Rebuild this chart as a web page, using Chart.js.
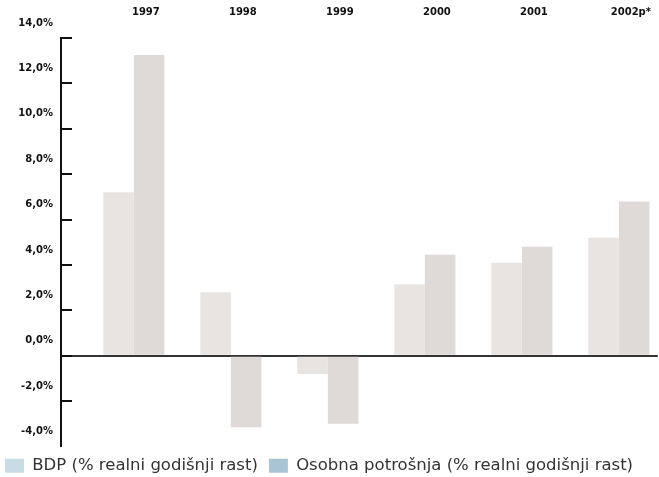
<!DOCTYPE html>
<html>
<head>
<meta charset="utf-8">
<script src="https://cdn.jsdelivr.net/npm/chart.js@4/dist/chart.umd.min.js"></script>
<style>
  html, body { margin: 0; padding: 0; background: #ffffff; }
  #wrap { width: 659px; height: 477px; position: relative; }
</style>
</head>
<body>
<div id="wrap"><canvas id="c"></canvas></div>
<script>
// ---- data ----
const categories = ['1997', '1998', '1999', '2000', '2001', '2002p*'];
const gdpValues = [7.2, 2.8, -0.8, 3.15, 4.1, 5.2];
const consumptionValues = [13.25, -3.15, -3.0, 4.45, 4.8, 6.8];
const yTickValues = [14, 12, 10, 8, 6, 4, 2, 0, -2, -4];
const yTickLabels = ['14,0%', '12,0%', '10,0%', '8,0%', '6,0%', '4,0%', '2,0%', '0,0%', '-2,0%', '-4,0%'];
const seriesNames = ['BDP (% realni godišnji rast)', 'Osobna potrošnja (% realni godišnji rast)'];

// ---- styles ----
const barColors = ['#e8e4e1', '#dfdad7'];
const legendColors = ['#c9dce6', '#a9c4d2'];

const innerTicks = {
  id: 'innerTicks',
  afterDatasetsDraw(chart) {
    const y = chart.scales.y;
    const ctx = chart.ctx;
    ctx.save();
    ctx.strokeStyle = '#111';
    ctx.lineWidth = 2;
    y.ticks.forEach(t => {
      if (t.value <= y.min) return;
      const py = Math.round(y.getPixelForValue(t.value));
      ctx.beginPath();
      ctx.moveTo(chart.chartArea.left, py);
      ctx.lineTo(chart.chartArea.left + 11, py);
      ctx.stroke();
    });
    ctx.restore();
  }
};

new Chart(document.getElementById('c'), {
  type: 'bar',
  data: {
    datasets: [
      {
        label: seriesNames[0],
        data: gdpValues.map((v, i) => ({ x: i, y: v })),
        backgroundColor: barColors[0],
        borderWidth: 0,
        categoryPercentage: 0.63,
        barPercentage: 1.0
      },
      {
        label: seriesNames[1],
        data: consumptionValues.map((v, i) => ({ x: i, y: v })),
        backgroundColor: barColors[1],
        borderWidth: 0,
        categoryPercentage: 0.63,
        barPercentage: 1.0
      }
    ]
  },
  options: {
    responsive: true,
    maintainAspectRatio: false,
    animation: false,
    layout: { padding: { top: 0, right: 0, bottom: -7, left: -6 } },
    plugins: {
      tooltip: { enabled: false },
      legend: {
        display: true,
        position: 'bottom',
        align: 'start',
        labels: {
          boxWidth: 19,
          boxHeight: 14,
          padding: 11,
          color: '#333333',
          font: { family: 'DejaVu Sans', size: 16.5 },
          generateLabels(chart) {
            return chart.data.datasets.map((ds, i) => ({
              text: ds.label,
              fillStyle: legendColors[i],
              strokeStyle: legendColors[i],
              lineWidth: 0,
              hidden: false,
              datasetIndex: i,
              fontColor: '#333333'
            }));
          }
        }
      }
    },
    scales: {
      x: {
        type: 'linear',
        position: 'top',
        offset: false,
        min: -0.751,
        max: 5.401,
        afterBuildTicks(scale) {
          scale.ticks = categories.map((_, i) => ({ value: i }));
        },
        afterFit(scale) { scale.height = 38; },
        grid: { display: false, drawTicks: false, offset: false },
        border: { display: false },
        ticks: {
          autoSkip: false,
          maxRotation: 0,
          labelOffset: 12,
          padding: 20,
          color: '#111',
          font: { family: 'DejaVu Sans', size: 10, weight: 'bold' },
          callback: (v) => categories[v] ?? ''
        }
      },
      y: {
        min: -4,
        max: 14,
        afterBuildTicks(scale) {
          scale.ticks = yTickValues.map(v => ({ value: v }));
        },
        afterFit(scale) { scale.width = 67; },
        grid: {
          drawTicks: false,
          color: (c) => (c.tick && c.tick.value === 0) ? '#333333' : 'rgba(0,0,0,0)',
          lineWidth: (c) => (c.tick && c.tick.value === 0) ? 2 : 0
        },
        border: { display: true, color: '#111', width: 2 },
        ticks: {
          padding: 8,
          labelOffset: -15,
          color: '#111',
          font: { family: 'DejaVu Sans', size: 10, weight: 'bold' },
          callback: (v) => {
            const i = yTickValues.indexOf(v);
            return i >= 0 ? yTickLabels[i] : '';
          }
        }
      }
    }
  },
  plugins: [innerTicks]
});
</script>
</body>
</html>
